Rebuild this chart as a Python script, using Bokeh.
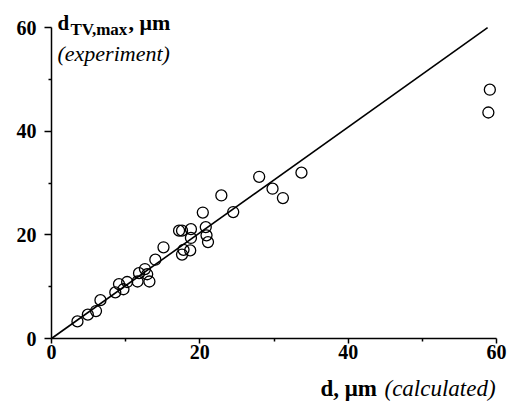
from bokeh.plotting import figure
from bokeh.models import FixedTicker, Label, Range1d, LinearAxis
from bokeh.embed import file_html
from bokeh.resources import INLINE

# calculated d (um) vs experimental d_TV,max (um)
d_calc = [3.5, 4.9, 6.0, 6.6, 8.6, 9.1, 9.7, 10.2, 11.6, 11.8, 12.6, 12.9, 13.2,
          14.0, 15.1, 17.2, 17.6, 17.6, 17.8, 18.7, 18.8, 18.8, 20.4, 20.8, 20.9,
          21.1, 22.9, 24.5, 28.0, 29.8, 31.2, 33.7, 59.1, 58.9]
d_exp = [3.3, 4.6, 5.3, 7.4, 8.9, 10.5, 9.5, 10.9, 11.0, 12.6, 13.4, 12.4, 11.0,
         15.2, 17.6, 20.8, 20.8, 16.2, 17.1, 17.0, 21.1, 19.4, 24.3, 21.5, 19.9,
         18.6, 27.6, 24.4, 31.2, 28.9, 27.1, 32.0, 48.0, 43.6]

fit_x = [0, 58.8]
fit_slope = 1.02
fit_y = [v * fit_slope for v in fit_x]

major_ticks = [0, 20, 40, 60]
minor_ticks = [10, 30, 50]

SERIF = "Liberation Serif"

W, H = 515, 405
X0PX, XSC = 51, 7.417      # pixel of x=0, pixels per unit
Y0PX, YSC = 338, 5.183     # pixel of y=0, pixels per unit

def dx(px):
    return (px - X0PX) / XSC

def dy(py):
    return (Y0PX - py) / YSC

p = figure(width=W, height=H, output_backend="svg", toolbar_location=None,
           x_range=Range1d(dx(0), dx(W)), y_range=Range1d(dy(H), dy(0)),
           x_axis_location=None, y_axis_location=None,
           min_border=0, min_border_left=0, min_border_right=0,
           min_border_top=0, min_border_bottom=0)
p.outline_line_color = None
p.grid.visible = False
p.background_fill_color = "white"

xax = LinearAxis(fixed_location=0, bounds=(0, 60))
yax = LinearAxis(fixed_location=0, bounds=(0, 60))
p.add_layout(xax, "below")
p.add_layout(yax, "left")

for ax in (xax, yax):
    ax.ticker = FixedTicker(ticks=major_ticks, minor_ticks=minor_ticks)
    ax.axis_line_color = "black"
    ax.axis_line_width = 1.5
    ax.major_tick_line_color = "black"
    ax.major_tick_line_width = 1.5
    ax.minor_tick_line_color = "black"
    ax.minor_tick_line_width = 1.5
    ax.major_tick_in = 0
    ax.minor_tick_in = 0
    ax.major_label_text_font = SERIF
    ax.major_label_text_font_style = "bold"
    ax.major_label_text_font_size = "20px"
    ax.major_label_text_color = "black"

xax.major_tick_out = 5
xax.minor_tick_out = 3
xax.major_label_standoff = 1
yax.major_tick_out = 7
yax.minor_tick_out = 3
yax.major_label_standoff = 8

p.line(fit_x, fit_y, line_color="black", line_width=1.6)
p.scatter(d_calc, d_exp, marker="circle", size=11, fill_color=None,
          line_color="black", line_width=1.3)

def lab(text, px, py, size, style):
    p.add_layout(Label(x=dx(px), y=dy(py), text=text, text_font=SERIF,
                       text_font_size=size, text_font_style=style,
                       text_color="black", text_baseline="alphabetic",
                       text_align="left"))

lab("d", 57, 22, "21px", "bold")
lab("TV,max", 70, 29, "17px", "bold")
lab(", \u03bcm", 128, 22, "22px", "bold")
lab("(experiment)", 57, 53, "22px", "italic")

lab("d, \u03bcm", 320, 388, "23px", "bold")
lab("(calculated)", 384, 388, "23px", "italic")

open("out.html", "w").write(file_html(p, INLINE))
